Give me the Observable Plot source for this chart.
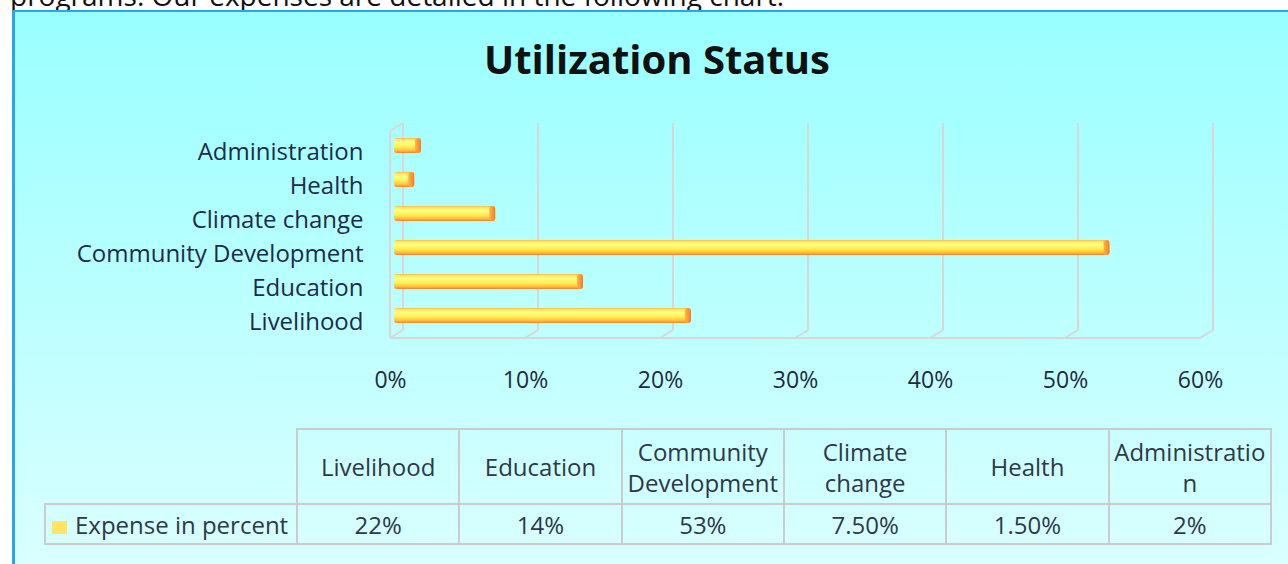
<!DOCTYPE html>
<html><head><meta charset="utf-8">
<script src="https://cdn.jsdelivr.net/npm/d3@7"></script>
<script src="https://cdn.jsdelivr.net/npm/@observablehq/plot@0.6"></script>
<style>
html,body{margin:0;padding:0;background:#fff;width:1288px;height:564px;overflow:hidden;font-family:"Open Sans",sans-serif;}
#intro{position:absolute;left:10px;top:-19px;font-size:28px;line-height:1;color:#111;white-space:nowrap;z-index:0;}
#box{position:absolute;left:12px;top:10px;width:1300px;height:570px;border-left:3px solid #2aa3f0;border-top:2px solid #2aa3f0;background:linear-gradient(#99ffff,#dcffff);z-index:1;}
#title{position:absolute;left:0;width:1314px;top:39px;text-align:center;font-weight:700;font-size:40px;line-height:1;color:#111;z-index:2;}
#chart{position:absolute;left:0;top:100px;z-index:2;}
#table{position:absolute;left:0;top:0;z-index:2;}
.cell{position:absolute;box-sizing:border-box;border:2px solid #cbcbcb;display:flex;align-items:center;justify-content:center;text-align:center;font-size:24px;line-height:31px;color:#2d3848;white-space:pre-line;}
.swatch{display:inline-block;width:15px;height:13px;background:#ffe566;margin-right:8px;}
</style></head><body>
<div id="intro">programs. Our expenses are detailed in the following chart.</div>
<div id="box"></div>
<div id="title">Utilization Status</div>
<div id="chart"></div>
<div id="table"></div>
<script>
const categories = ["Livelihood","Education","Community Development","Climate change","Health","Administration"];
const expense = [22,14,53,7.5,1.5,2];
const tableHeaders = ["Livelihood","Education","Community\nDevelopment","Climate\nchange","Health","Administratio\nn"];
const tableValues = ["22%","14%","53%","7.50%","1.50%","2%"];
const seriesName = "Expense in percent";
const xTicks = [0,10,20,30,40,50,60];

const data = categories.map((c,i)=>({category:c, value:expense[i]}));
const yDomain = categories.slice().reverse();

function frame3d(index, scales, values, dims) {
  const DX = 13, DY = 8;
  const g = d3.create("svg:g").attr("fill","none").attr("stroke","#d9d6d6").attr("stroke-width",2);
  const top = dims.marginTop, bottom = dims.height - dims.marginBottom;
  const x0 = scales.x(xTicks[0]), x1 = scales.x(xTicks[xTicks.length-1]);
  for (const t of xTicks) {
    const x = scales.x(t);
    g.append("line").attr("x1",x+DX).attr("x2",x+DX).attr("y1",top).attr("y2",bottom);
    g.append("line").attr("x1",x).attr("y1",bottom+DY).attr("x2",x+DX).attr("y2",bottom);
  }
  g.append("line").attr("x1",x0).attr("x2",x0).attr("y1",top+DY).attr("y2",bottom+DY);
  g.append("line").attr("x1",x0).attr("y1",top+DY).attr("x2",x0+DX).attr("y2",top);
  g.append("line").attr("x1",x0).attr("y1",bottom+DY).attr("x2",x1).attr("y2",bottom+DY);
  return g.node();
}

const plot = Plot.plot({
  width:1288, height:300, marginLeft:390, marginRight:88, marginTop:23, marginBottom:70,
  style:{background:"transparent", fontFamily:"Open Sans, sans-serif", fontSize:"23px", color:"#1e2b48", overflow:"visible"},
  x:{domain:[0,60], label:null},
  y:{domain:yDomain, range:[24,248], padding:0.57, label:null},
  marks:[
    frame3d,
    Plot.barX(data,{x:"value", y:"category", dx:4, dy:-6, fill:"url(#barGrad)", rx:3}),
    Plot.barX(data,{x1:"value", x2:"value", y:"category", dx:4, dy:-6, insetLeft:-6, fill:"url(#capGrad)", rx:3}),
    Plot.axisX({ticks:xTicks, tickFormat:d=>d+"%", tickSize:0, tickPadding:41, fill:"#1e2b3c", label:null}),
    Plot.axisY({tickSize:0, tickPadding:27, fill:"#1e2b48", label:null, fontSize:24})
  ]
});
const defs = d3.select(plot).insert("defs", ":first-child");
const bg = defs.append("linearGradient").attr("id","barGrad").attr("x1",0).attr("y1",0).attr("x2",0).attr("y2",1);
[[0,"#ffb340"],[0.1,"#ffe868"],[0.3,"#ffff80"],[0.6,"#ffee55"],[0.85,"#ffbb3a"],[1,"#f08030"]].forEach(([o,c])=>bg.append("stop").attr("offset",o).attr("stop-color",c));
const cg = defs.append("linearGradient").attr("id","capGrad").attr("x1",0).attr("y1",0).attr("x2",1).attr("y2",0);
[[0,"#ffb347"],[0.6,"#ff9433"],[1,"#f07a25"]].forEach(([o,c])=>cg.append("stop").attr("offset",o).attr("stop-color",c));
document.getElementById("chart").appendChild(plot);

// data table
const tbl = document.getElementById("table");
const colX0 = 296, colW = 162.33, hdrTop = 428, hdrH = 77, valTop = 503, valH = 42, legX = 44;
function cell(x, y, w, h, content) {
  const d = document.createElement("div");
  d.className = "cell";
  d.style.left = x + "px"; d.style.top = y + "px"; d.style.width = w + "px"; d.style.height = h + "px";
  if (content instanceof Node) d.appendChild(content); else d.textContent = content;
  tbl.appendChild(d);
  return d;
}
tableHeaders.forEach((h,i)=>cell(colX0 + i*colW, hdrTop, colW + 2, hdrH, h));
tableValues.forEach((v,i)=>cell(colX0 + i*colW, valTop, colW + 2, valH, v));
const leg = document.createElement("span");
const sw = document.createElement("span"); sw.className = "swatch";
leg.appendChild(sw); leg.appendChild(document.createTextNode(seriesName));
const lc = cell(legX, valTop, colX0 - legX + 2, valH, leg);
lc.style.justifyContent = "flex-start"; lc.style.paddingLeft = "6px";
</script>
</body></html>
